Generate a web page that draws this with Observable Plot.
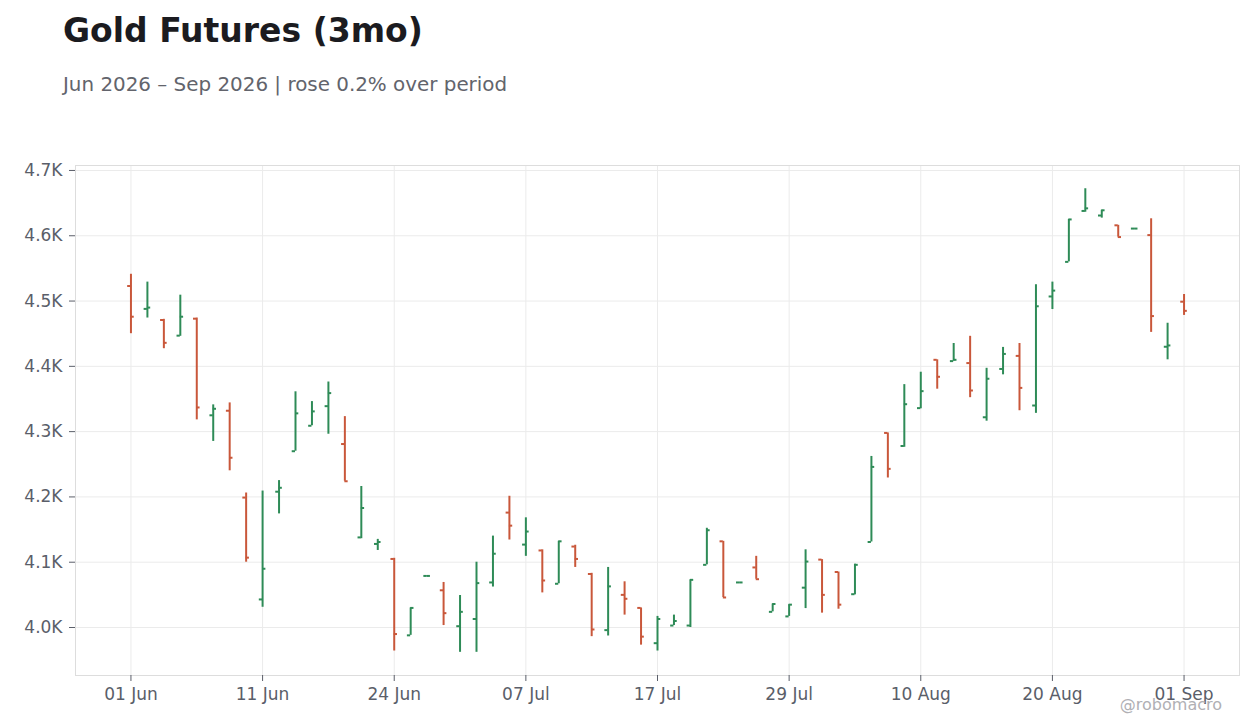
<!DOCTYPE html>
<html>
<head>
<meta charset="utf-8">
<script src="https://cdn.jsdelivr.net/npm/d3@7"></script>
<script src="https://cdn.jsdelivr.net/npm/@observablehq/plot@0.6"></script>
<style>
  html, body { margin: 0; padding: 0; background: #ffffff; }
  body { width: 1260px; height: 728px; position: relative; overflow: hidden; font-family: "DejaVu Sans", sans-serif; }
  #title { position: absolute; left: 63px; top: 14px; font-size: 33px; line-height: 33px; font-weight: bold; color: #1b1b20; white-space: nowrap; }
  #subtitle { position: absolute; left: 63px; top: 75px; font-size: 19.9px; line-height: 20px; color: #62646c; white-space: nowrap; }
  #chart { position: absolute; left: 0; top: 120px; }
  #caption { position: absolute; right: 38px; top: 697px; font-size: 16px; line-height: 16px; color: #b0b0b4; white-space: nowrap; }
</style>
</head>
<body>
<div id="title">Gold Futures (3mo)</div>
<div id="subtitle">Jun 2026 – Sep 2026 | rose 0.2% over period</div>
<div id="chart"></div>
<div id="caption">@robomacro</div>
<script>
const dates = [
  "2026-06-01","2026-06-02","2026-06-03","2026-06-04","2026-06-05",
  "2026-06-08","2026-06-09","2026-06-10","2026-06-11","2026-06-12",
  "2026-06-15","2026-06-16","2026-06-17","2026-06-18","2026-06-22",
  "2026-06-23","2026-06-24","2026-06-25","2026-06-26","2026-06-29",
  "2026-06-30","2026-07-01","2026-07-02","2026-07-06","2026-07-07",
  "2026-07-08","2026-07-09","2026-07-10","2026-07-13","2026-07-14",
  "2026-07-15","2026-07-16","2026-07-17","2026-07-20","2026-07-21",
  "2026-07-22","2026-07-23","2026-07-24","2026-07-27","2026-07-28",
  "2026-07-29","2026-07-30","2026-07-31","2026-08-03","2026-08-04",
  "2026-08-05","2026-08-06","2026-08-07","2026-08-10","2026-08-11",
  "2026-08-12","2026-08-13","2026-08-14","2026-08-17","2026-08-18",
  "2026-08-19","2026-08-20","2026-08-21","2026-08-24","2026-08-25",
  "2026-08-26","2026-08-27","2026-08-28","2026-08-31","2026-09-01"
];
const open = [
  4523,4488,4471,4447,4473, 4325,4332,4199,4043,4208,
  4270,4309,4339,4281,4138, 4128,4105,3988,4079,4057,
  4002,4013,4069,4176,4127, 4118,4067,4124,4082,3996,
  4050,4030,3976,4003,4003, 4096,4132,4069,4092,4024,
  4017,4061,4104,4085,4051, 4131,4298,4278,4336,4410,
  4408,4405,4322,4396,4416, 4340,4507,4560,4638,4631,
  4616,4611,4601,4430,4499
];
const high = [
  4541,4529,4472,4509,4474, 4341,4344,4206,4209,4225,
  4361,4346,4376,4323,4216, 4135,4106,4030,4079,4069,
  4049,4100,4140,4201,4168, 4119,4132,4126,4083,4092,
  4070,4030,4017,4019,4073, 4152,4132,4069,4109,4036,
  4035,4119,4104,4085,4097, 4262,4298,4372,4391,4410,
  4435,4446,4397,4429,4435, 4525,4529,4625,4672,4639,
  4616,4611,4626,4466,4510
];
const low = [
  4450,4474,4427,4446,4318, 4285,4240,4100,4031,4174,
  4270,4309,4296,4224,4136, 4118,3964,3988,4078,4003,
  3962,3962,4062,4134,4109, 4053,4067,4092,3986,3987,
  4019,3973,3964,4003,4000, 4096,4046,4068,4074,4024,
  4017,4029,4022,4028,4050, 4131,4229,4276,4335,4365,
  4408,4352,4316,4387,4332, 4328,4487,4560,4636,4627,
  4598,4610,4452,4410,4478
];
const close = [
  4476,4490,4436,4476,4337, 4335,4260,4107,4090,4214,
  4328,4331,4359,4224,4183, 4131,3990,4030,4079,4022,
  4024,4068,4113,4156,4147, 4072,4132,4105,3997,4063,
  4044,3986,4013,4010,4073, 4149,4046,4069,4074,4036,
  4035,4101,4050,4035,4096, 4246,4243,4342,4362,4384,
  4410,4363,4381,4419,4367, 4492,4516,4625,4642,4639,
  4598,4611,4477,4432,4485
];
const yTicks = [4000, 4100, 4200, 4300, 4400, 4500, 4600, 4700];
const xTickEvery = 8;

const UP = "#2e8b57";
const DOWN = "#c9573a";

const parse = d3.utcParse("%Y-%m-%d");
const fmtDate = d3.utcFormat("%d %b");
const data = dates.map((d, i) => ({
  i, date: parse(d), open: open[i], high: high[i], low: low[i], close: close[i],
  up: close[i] >= open[i]
}));
const xTicks = d3.range(0, dates.length, xTickEvery);
const tickHalf = 0.2;

const chart = Plot.plot({
  width: 1260,
  height: 608,
  marginTop: 45,
  marginBottom: 53,
  marginLeft: 75,
  marginRight: 21,
  style: { fontFamily: "DejaVu Sans, sans-serif", fontSize: "17px", color: "#5a5e69", background: "transparent" },
  x: { domain: [-3.37, dates.length - 1 + 3.37], ticks: xTicks, tickFormat: i => fmtDate(data[i].date), tickSize: 6, tickPadding: 6, label: null },
  y: { domain: [3926.5, 4707.6], ticks: yTicks, tickFormat: v => (v / 1000).toFixed(1) + "K", tickSize: 6, tickPadding: 7, label: null },
  marks: [
    Plot.gridX(xTicks, { stroke: "#ebebeb", strokeOpacity: 1 }),
    Plot.gridY(yTicks, { stroke: "#ebebeb", strokeOpacity: 1 }),
    Plot.frame({ stroke: "#dddddd" }),
    Plot.axisX({ ticks: xTicks, tickFormat: i => fmtDate(data[i].date), tickSize: 6, tickPadding: 6, stroke: "#5a5e69", fill: "#5a5e69", fontSize: 17 }),
    Plot.axisY({ ticks: yTicks, tickFormat: v => (v / 1000).toFixed(1) + "K", tickSize: 6, tickPadding: 7, stroke: "#5a5e69", fill: "#5a5e69", fontSize: 17 }),
    Plot.ruleX(data, { x: "i", y1: "low", y2: "high", stroke: d => d.up ? UP : DOWN, strokeWidth: 2 }),
    Plot.ruleY(data, { y: "open", x1: d => d.i - tickHalf, x2: d => d.i, stroke: d => d.up ? UP : DOWN, strokeWidth: 2 }),
    Plot.ruleY(data, { y: "close", x1: d => d.i, x2: d => d.i + tickHalf, stroke: d => d.up ? UP : DOWN, strokeWidth: 2 })
  ]
});
document.getElementById("chart").appendChild(chart);
</script>
</body>
</html>
